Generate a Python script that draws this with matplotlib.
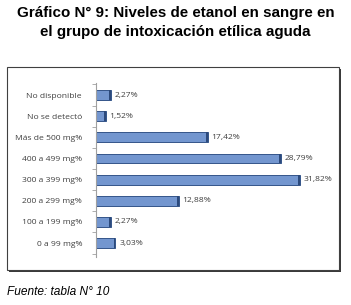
import matplotlib
matplotlib.use('Agg')
import matplotlib.pyplot as plt
from matplotlib.patches import Rectangle

categories = ['0 a 99 mg%', '100 a 199 mg%', '200 a 299 mg%', '300 a 399 mg%',
              '400 a 499 mg%', 'Más de 500 mg%', 'No se detectó', 'No disponible']
values = [3.03, 2.27, 12.88, 31.82, 28.79, 17.42, 1.52, 2.27]
value_labels = ['3,03%', '2,27%', '12,88%', '31,82%', '28,79%', '17,42%', '1,52%', '2,27%']

W, H = 351, 305
fig = plt.figure(figsize=(W / 100, H / 100), dpi=100)

# title and source
fig.text(0.5, 1 - 13 / H, 'Gráfico N° 9: Niveles de etanol en sangre en', ha='center', va='center',
         fontsize=10.9, fontweight='bold', family='Liberation Sans')
fig.text(0.5, 1 - 32 / H, 'el grupo de intoxicación etílica aguda', ha='center', va='center',
         fontsize=10.9, fontweight='bold', family='Liberation Sans')
fig.text(7 / W, 1 - 292 / H, 'Fuente: tabla N° 10', ha='left', va='center',
         fontsize=8.6, style='italic', family='Liberation Sans')

# framed box with shadow
fig.patches.append(Rectangle((9 / W, 1 - 272 / H), 332 / W, 203 / H, transform=fig.transFigure,
                             facecolor='#3a3a3a', edgecolor='none', zorder=0))
fig.patches.append(Rectangle((7 / W, 1 - 270 / H), 332 / W, 203 / H, transform=fig.transFigure,
                             facecolor='white', edgecolor='#404040', linewidth=0.8, zorder=1))

x0, x1 = 96, 330
ax = fig.add_axes([x0 / W, 1 - 257 / H, (x1 - x0) / W, (257 - 83) / H])
ax.set_zorder(2)
ax.patch.set_alpha(0)
scale = 204 / 31.82
ax.set_xlim(0, (x1 - x0) / scale)
ax.set_ylim(-0.66, 7.57)

ypos = list(range(len(categories)))
ax.barh(ypos, values, height=0.47, color='#7396cf', edgecolor='#34558a', linewidth=0.7)
# darker end caps for a 3D look
ax.barh(ypos, [0.3] * len(values), left=[v - 0.3 for v in values], height=0.47,
        color='#2c4a7c', edgecolor='none')

for y, v, lab in zip(ypos, values, value_labels):
    ax.text(v + 0.6, y, lab, va='center', ha='left', fontsize=6.1, color='#404040',
            family='Open Sans')

ax.set_yticks(ypos)
ax.set_yticklabels(categories, fontsize=6.1, color='#404040', family='Open Sans')
ax.tick_params(axis='y', which='major', length=0, pad=10)
ax.set_yticks([i - 0.5 for i in range(len(categories) + 1)], minor=True)
ax.tick_params(axis='y', which='minor', length=3, color='#a0a0a0', width=0.6)
ax.set_xticks([])
for s in ['top', 'right', 'bottom']:
    ax.spines[s].set_visible(False)
ax.spines['left'].set_color('#a0a0a0')
ax.spines['left'].set_linewidth(0.8)

fig.savefig('out.png', dpi=100)
